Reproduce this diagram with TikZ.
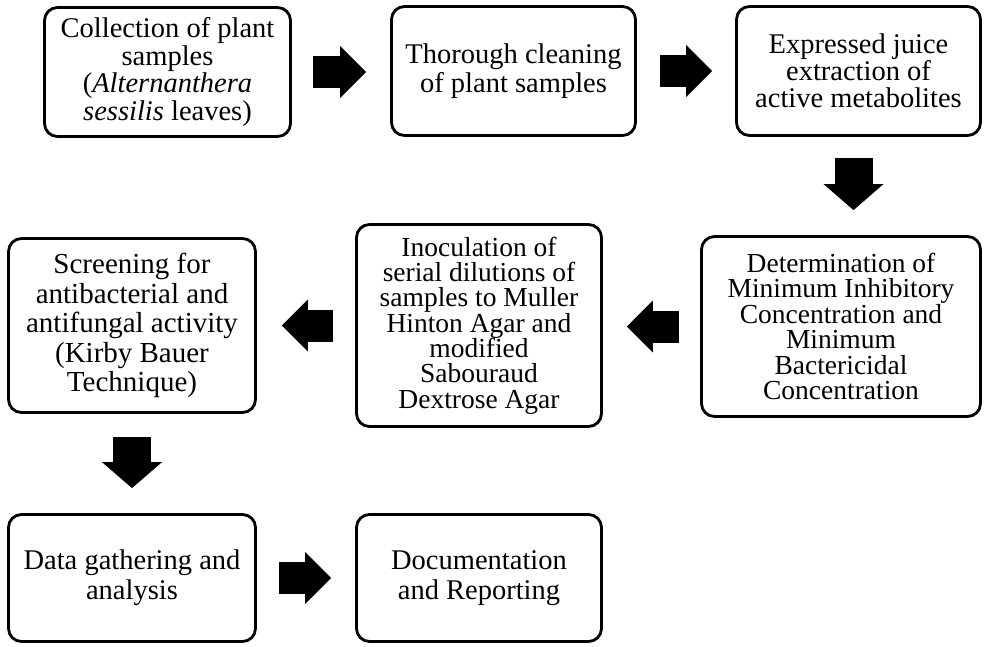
\documentclass[tikz,border=0pt]{standalone}
\usepackage{fontspec}
\setmainfont{Liberation Serif}
\usetikzlibrary{arrows.meta}

\begin{document}
\begin{tikzpicture}
[x=1pt, y=-1pt,
  stage/.style={draw, line width=2.8pt, rounded corners=13pt, align=center,
    inner sep=0pt, font=\fontsize{28.5}{27}\selectfont},
  flowh/.style={line width=32pt, -{Triangle[length=26pt, width=52pt, line width=0pt]}},
  flowv/.style={line width=38pt, -{Triangle[length=26pt, width=60pt, line width=0pt]}}]
  \useasboundingbox (0,0) rectangle (985,646);
  % top row
  \node[stage, minimum width=246pt, minimum height=129pt, font=\fontsize{28.5}{27.5}\selectfont]
    (collect) at (167.5,72) {Collection of plant\\samples\\(\textit{Alternanthera}\\\textit{sessilis} leaves)};
  \node[stage, minimum width=244pt, minimum height=129pt, font=\fontsize{28.5}{29.5}\selectfont]
    (clean) at (513.5,71) {Thorough cleaning\\of plant samples};
  \node[stage, minimum width=244pt, minimum height=129pt]
    (juice) at (858.5,71) {Expressed juice\\extraction of\\active metabolites};
  % middle row
  \node[stage, minimum width=279pt, minimum height=180pt, font=\fontsize{27.5}{25.5}\selectfont]
    (mic) at (841,326.5) {Determination of\\Minimum Inhibitory\\Concentration and\\Minimum\\Bactericidal\\Concentration};
  \node[stage, minimum width=245pt, minimum height=202pt, font=\fontsize{27.5}{25.3}\selectfont]
    (inoc) at (479,325.5) {Inoculation of\\serial dilutions of\\samples to Muller\\Hinton Agar and\\modified\\Sabouraud\\Dextrose Agar};
  \node[stage, minimum width=247pt, minimum height=174pt, font=\fontsize{29}{29.5}\selectfont]
    (screen) at (132,325.5) {Screening for\\antibacterial and\\antifungal activity\\(Kirby Bauer\\Technique)};
  % bottom row
  \node[stage, minimum width=247pt, minimum height=127pt, font=\fontsize{28.5}{30}\selectfont]
    (data) at (132,578) {Data gathering and\\analysis};
  \node[stage, minimum width=245pt, minimum height=127pt, font=\fontsize{28.5}{30}\selectfont]
    (report) at (479,578) {Documentation\\and Reporting};

  \draw[flowh, shorten <=21pt, shorten >=24pt] (collect.east) -- (collect.east -| clean.west);
  \draw[flowh, shorten <=23pt, shorten >=23pt] (clean) -- (juice);
  \draw[flowv, shorten <=21pt, shorten >=25pt] ([xshift=-5pt]juice.south) -- ([xshift=-5pt]juice.south |- mic.north);
  \draw[flowh, shorten <=21pt, shorten >=24pt] (mic.west) -- (mic.west -| inoc.east);
  \draw[flowh, shorten <=22pt, shorten >=25pt] (inoc.west) -- (inoc.west -| screen.east);
  \draw[flowv, shorten <=23pt, shorten >=25pt] (screen) -- (data);
  \draw[flowh, shorten <=22pt, shorten >=24pt] (data) -- (report);
\end{tikzpicture}
\end{document}
